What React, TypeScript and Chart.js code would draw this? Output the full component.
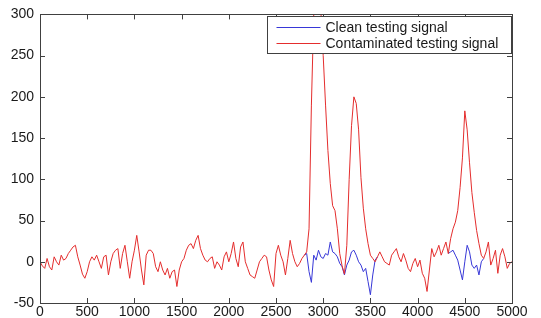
import { useEffect, useRef } from "react";
import { Chart, registerables } from "chart.js";

Chart.register(...registerables);

// x positions of the samples (every 25 samples from 0 to 5000)
const sampleStep = 25;
const xMin = 0;
const xMax = 5000;
const xTickStep = 500;
const yMin = -50;
const yMax = 300;
const yTickStep = 50;

// Contaminated testing signal (red), one value every 25 samples from 0 to 5000
const contaminatedSignal = [
  0, -5, -8, 4, -6, -10, 6, 0, -4, 8, 2, 4, 10, 14, 18, 20, 6, -4, -15, -20,
  -12, 0, 6, 2, 8, 0, -8, 6, 8, -16, 0, 10, 14, 16, -8, 10, 20, 0, -20, 0,
  14, 32, 12, -10, -28, 8, 14, 14, 10, -6, -12, 0, -10, -16, -8, -20, -12, -10, -30, -10,
  0, 4, 14, 20, 22, 16, 26, 32, 16, 8, 2, 0, 4, 6, -8, 0, -4, -10, 6, 12,
  0, 10, 24, 4, -6, 18, 24, 0, -8, -16, -18, -20, -10, 0, 4, 8, 6, -10, -22, -30,
  10, 20, 8, 0, -16, 4, 26, 10, 0, -6, -2, 4, 8, 12, 40, 190, 300, 312, 315, 305,
  250, 190, 135, 95, 68, 62, 40, 10, -5, -15, 20, 100, 165, 200, 192, 160, 102, 65, 40, 22,
  8, 4, 0, 6, 12, 6, 0, -2, -4, 8, 12, 16, 6, 0, 10, 2, -8, -12, -2, 4,
  -6, 2, -14, -20, -36, -10, 16, 6, 12, 20, 8, 16, 24, 10, 28, 40, 48, 62, 90, 126,
  183, 160, 120, 84, 60, 38, 22, 8, 4, 12, 24, -4, 4, 14, -14, 8, 16, 6, -8, -2,
  0,
];

// Clean testing signal (blue): only where it differs from the contaminated one
const cleanSegmentAStart = 2800;
const cleanSegmentA = [
  8, 10, -12, -25, 8, 2, 14, 6, 4, 10, 8, 24, 12, 10, 6, -2, -6, -16, -4, 2,
  12, 14, 8, 0, -4, -12, -8, -24, -40, -16, 2, 6,
];
const cleanSegmentBStart = 4325;
const cleanSegmentB = [10, 12, 14, 8, 2, -10, -22, 0, 20, 12, -4, -8, -4, -16, 0, 4];

const seriesNames = ["Clean testing signal", "Contaminated testing signal"];
const cleanColor = "rgb(55, 55, 215)";
const contaminatedColor = "rgb(228, 45, 45)";
const fontFamily = "'Liberation Sans', Arial, Helvetica, sans-serif";

function toPoints(start: number, values: number[]) {
  return values.map((v, i) => ({ x: start + i * sampleStep, y: v }));
}

const framePlugin = {
  id: "matlabFrame",
  afterDatasetsDraw(chart: any) {
    const { ctx, chartArea: a, scales } = chart;
    const xs = scales.x;
    const ys = scales.y;
    ctx.save();
    ctx.strokeStyle = "#404040";
    ctx.lineWidth = 1;
    ctx.beginPath();
    const tl = 5;
    xs.ticks.forEach((t: any) => {
      const px = Math.round(xs.getPixelForValue(t.value)) + 0.5;
      ctx.moveTo(px, a.bottom);
      ctx.lineTo(px, a.bottom - tl);
      ctx.moveTo(px, a.top);
      ctx.lineTo(px, a.top + tl);
    });
    ys.ticks.forEach((t: any) => {
      const py = Math.round(ys.getPixelForValue(t.value)) + 0.5;
      ctx.moveTo(a.left, py);
      ctx.lineTo(a.left + tl, py);
      ctx.moveTo(a.right, py);
      ctx.lineTo(a.right - tl, py);
    });
    ctx.stroke();
    ctx.strokeRect(Math.round(a.left) + 0.5, Math.round(a.top) + 0.5, Math.round(a.width), Math.round(a.height));

    // legend box inside the axes, top right
    const bw = 244;
    const bh = 37;
    const bx = Math.round(a.right) - bw - 1 + 0.5;
    const by = Math.round(a.top) + 2 + 0.5;
    ctx.fillStyle = "#ffffff";
    ctx.fillRect(bx, by, bw, bh);
    ctx.strokeStyle = "#404040";
    ctx.strokeRect(bx, by, bw, bh);
    const colors = [cleanColor, contaminatedColor];
    ctx.font = "14px " + fontFamily;
    ctx.textBaseline = "middle";
    ctx.textAlign = "left";
    seriesNames.forEach((name, i) => {
      const ry = Math.round(by + 10.5 + i * 16) + 0.5;
      ctx.strokeStyle = colors[i];
      ctx.beginPath();
      ctx.moveTo(bx + 9, ry);
      ctx.lineTo(bx + 53, ry);
      ctx.stroke();
      ctx.fillStyle = "#1a1a1a";
      ctx.fillText(name, bx + 58, ry + 1);
    });
    ctx.restore();
  },
};

export default function App() {
  const canvasRef = useRef<HTMLCanvasElement | null>(null);

  useEffect(() => {
    if (!canvasRef.current) return;
    const cleanData: any[] = [
      ...toPoints(cleanSegmentAStart, cleanSegmentA),
      { x: 4000, y: null },
      ...toPoints(cleanSegmentBStart, cleanSegmentB),
    ];
    const chart = new Chart(canvasRef.current, {
      type: "line",
      data: {
        datasets: [
          {
            label: seriesNames[1],
            data: toPoints(xMin, contaminatedSignal),
            borderColor: contaminatedColor,
            borderWidth: 1,
            pointRadius: 0,
            tension: 0,
            fill: false,
          },
          {
            label: seriesNames[0],
            data: cleanData,
            borderColor: cleanColor,
            borderWidth: 1,
            pointRadius: 0,
            tension: 0,
            fill: false,
            spanGaps: false,
          },
        ],
      },
      options: {
        responsive: false,
        animation: false,
        events: [],
        layout: { padding: { top: 13, right: 29, left: 0, bottom: 0 } },
        plugins: {
          legend: { display: false },
          tooltip: { enabled: false },
        },
        scales: {
          x: {
            type: "linear",
            min: xMin,
            max: xMax,
            grid: { display: false, drawTicks: false },
            border: { display: false },
            ticks: {
              stepSize: xTickStep,
              autoSkip: false,
              maxRotation: 0,
              padding: 1,
              color: "#1a1a1a",
              font: { family: fontFamily, size: 14 },
              callback: (v: any) => String(v),
            },
            afterFit: (s: any) => {
              s.height = 15;
            },
          },
          y: {
            type: "linear",
            min: yMin,
            max: yMax,
            grid: { display: false, drawTicks: false },
            border: { display: false },
            ticks: {
              stepSize: yTickStep,
              padding: 6,
              color: "#1a1a1a",
              font: { family: fontFamily, size: 14 },
              callback: (v: any) => String(v),
            },
            afterFit: (s: any) => {
              s.width = 40;
            },
          },
        },
      },
      plugins: [framePlugin],
    });
    return () => chart.destroy();
  }, []);

  return (
    <div style={{ position: "fixed", left: 0, top: 0, width: 541, height: 318, background: "#ffffff" }}>
      <canvas ref={canvasRef} width={541} height={318} />
    </div>
  );
}
